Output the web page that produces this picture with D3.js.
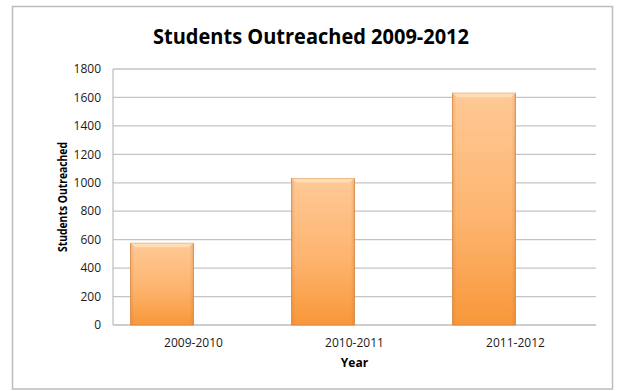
<!DOCTYPE html>
<html><head><meta charset="utf-8">
<script src="https://cdn.jsdelivr.net/npm/d3@7/dist/d3.min.js"></script>
<style>body{margin:0;background:#fff}svg{display:block}</style>
</head><body><svg id="c" width="618" height="391"></svg>
<script>
const categories = ["2009-2010", "2010-2011", "2011-2012"];
const seriesNames = ["Students Outreached", "(empty)"];
const studentsOutreached = [575, 1030, 1630];
const yTicks = [0, 200, 400, 600, 800, 1000, 1200, 1400, 1600, 1800];

const svg = d3.select("#c");
const font = "'Open Sans', 'Liberation Sans', sans-serif";
const L = 113, R = 596, T = 69, B = 325;

svg.append("rect").attr("x", 12.5).attr("y", 6.5).attr("width", 600).attr("height", 382.5)
  .attr("fill", "#fff").attr("stroke", "#bdbdbd").attr("stroke-width", 1.5);

const defs = svg.append("defs");
const g1 = defs.append("linearGradient").attr("id", "barGrad").attr("x1", 0).attr("y1", 0).attr("x2", 0).attr("y2", 1);
g1.append("stop").attr("offset", "0%").attr("stop-color", "#FFC996");
g1.append("stop").attr("offset", "55%").attr("stop-color", "#FDB46E");
g1.append("stop").attr("offset", "100%").attr("stop-color", "#F8973A");
const g2 = defs.append("linearGradient").attr("id", "sideGrad").attr("x1", 0).attr("y1", 0).attr("x2", 1).attr("y2", 0);
g2.append("stop").attr("offset", "0%").attr("stop-color", "#c0702a").attr("stop-opacity", 0.25);
g2.append("stop").attr("offset", "6%").attr("stop-color", "#c0702a").attr("stop-opacity", 0);
g2.append("stop").attr("offset", "94%").attr("stop-color", "#c0702a").attr("stop-opacity", 0);
g2.append("stop").attr("offset", "100%").attr("stop-color", "#c0702a").attr("stop-opacity", 0.3);

const y = d3.scaleLinear().domain([0, 1800]).range([B, T]);
const x = d3.scaleBand().domain(categories).range([L, R]).padding(0);
const xs = d3.scaleBand().domain(seriesNames).range([0, x.bandwidth()]).paddingInner(0).paddingOuter(0.278);

svg.append("g").selectAll("line").data(yTicks.slice(1)).join("line")
  .attr("x1", L).attr("x2", R).attr("y1", d => y(d)).attr("y2", d => y(d))
  .attr("stroke", "#c4c4c4").attr("stroke-width", 1.3);

svg.append("line").attr("x1", L).attr("x2", L).attr("y1", T).attr("y2", B).attr("stroke", "#bdbdbd").attr("stroke-width", 1.2);
svg.append("line").attr("x1", L).attr("x2", R).attr("y1", B).attr("y2", B).attr("stroke", "#bdbdbd").attr("stroke-width", 1.3);

svg.append("g").selectAll("text").data(yTicks).join("text")
  .attr("x", 101).attr("y", d => y(d)).attr("dy", "0.35em").attr("text-anchor", "end")
  .attr("font-family", font).attr("font-size", 12).attr("fill", "#1a1a1a").text(d => d);

svg.append("g").selectAll("text").data(categories).join("text")
  .attr("x", d => x(d) + x.bandwidth() / 2).attr("y", 347).attr("text-anchor", "middle")
  .attr("font-family", font).attr("font-size", 12).attr("fill", "#1a1a1a").text(d => d);

const bw = xs.bandwidth();
const bars = svg.append("g").selectAll("g").data(studentsOutreached.map((v, i) => ({c: categories[i], v}))).join("g")
  .attr("transform", d => `translate(${x(d.c) + xs(seriesNames[0])},0)`);
bars.append("rect").attr("x", 0).attr("y", d => y(d.v)).attr("width", bw).attr("height", d => B - y(d.v))
  .attr("fill", "url(#barGrad)").attr("stroke", "#d98a48").attr("stroke-width", 0.8);
bars.append("rect").attr("x", 0).attr("y", d => y(d.v)).attr("width", bw).attr("height", d => B - y(d.v))
  .attr("fill", "url(#sideGrad)");
bars.append("polygon").attr("points", d => {
  const t = y(d.v);
  return `0,${t} ${bw},${t} ${bw - 5},${t + 4} 5,${t + 4}`;
}).attr("fill", "#FFE3BE").attr("opacity", 0.8);

svg.append("text").attr("x", 311).attr("y", 44).attr("text-anchor", "middle")
  .attr("font-family", font).attr("font-weight", "bold").attr("font-size", 22).attr("fill", "#000")
  .attr("textLength", 316).attr("lengthAdjust", "spacingAndGlyphs")
  .text("Students Outreached 2009-2012");

svg.append("text").attr("transform", `translate(67,${(T + B) / 2}) rotate(-90)`).attr("text-anchor", "middle")
  .attr("font-family", font).attr("font-weight", "bold").attr("font-size", 11.5).attr("fill", "#000")
  .attr("textLength", 110).attr("lengthAdjust", "spacingAndGlyphs")
  .text("Students Outreached");
svg.append("text").attr("x", (L + R) / 2).attr("y", 367).attr("text-anchor", "middle")
  .attr("font-family", font).attr("font-weight", "bold").attr("font-size", 12).attr("fill", "#000")
  .text("Year");
</script></body></html>
